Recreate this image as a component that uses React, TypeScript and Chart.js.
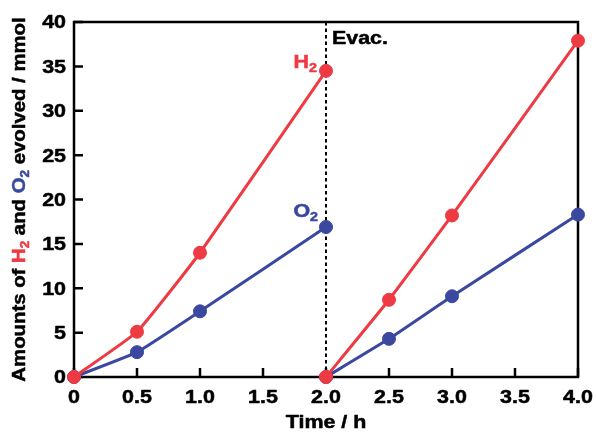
import React, { useEffect, useRef } from "react";
import { Chart, registerables } from "chart.js";

Chart.register(...registerables);

const timesRun1 = [0, 0.5, 1.0, 2.0];
const timesRun2 = [2.0, 2.5, 3.0, 4.0];
const h2Run1 = [0, 5.1, 14.0, 34.5];
const h2Run2 = [0, 8.7, 18.2, 37.9];
const o2Run1 = [0, 2.8, 7.4, 16.9];
const o2Run2 = [0, 4.3, 9.1, 18.3];
const xTicks = [0, 0.5, 1.0, 1.5, 2.0, 2.5, 3.0, 3.5, 4.0];
const xTickLabels = ["0", "0.5", "1.0", "1.5", "2.0", "2.5", "3.0", "3.5", "4.0"];
const yTicks = [0, 5, 10, 15, 20, 25, 30, 35, 40];
const yTickLabels = ["0", "5", "10", "15", "20", "25", "30", "35", "40"];
const evacTime = 2.0;

const RED = "#EE3A42";
const BLUE = "#3A48A0";
const FONT = "'Liberation Sans', Arial, sans-serif";
const SIZE = 18;
const STRETCH = 1.19;

function series(t1: number[], v1: number[], t2: number[], v2: number[]) {
  const pts: any[] = t1.map((x, i) => ({ x, y: v1[i] }));
  pts.push({ x: t1[t1.length - 1], y: null });
  t2.forEach((x, i) => pts.push({ x, y: v2[i] }));
  return pts;
}

type Part = { t: string; c: string; sub?: boolean };

function drawParts(
  ctx: CanvasRenderingContext2D,
  parts: Part[],
  x: number,
  y: number,
  align: "left" | "right" | "center",
  middle = false,
  stretch = STRETCH
) {
  const big = `bold ${SIZE}px ${FONT}`;
  const small = `bold ${Math.round(SIZE * 0.68)}px ${FONT}`;
  let total = 0;
  for (const p of parts) {
    ctx.font = p.sub ? small : big;
    total += ctx.measureText(p.t).width;
  }
  total *= stretch;
  const start = align === "left" ? x : align === "right" ? x - total : x - total / 2;
  const by = middle ? y + SIZE * 0.36 : y;
  ctx.save();
  ctx.translate(start, by);
  ctx.scale(stretch, 1);
  ctx.textAlign = "left";
  ctx.textBaseline = "alphabetic";
  ctx.lineWidth = 0.5;
  ctx.lineJoin = "round";
  let cx = 0;
  for (const p of parts) {
    ctx.font = p.sub ? small : big;
    ctx.fillStyle = p.c;
    ctx.strokeStyle = p.c;
    const yy = p.sub ? SIZE * 0.22 : 0;
    ctx.fillText(p.t, cx, yy);
    ctx.strokeText(p.t, cx, yy);
    cx += ctx.measureText(p.t).width;
  }
  ctx.restore();
}

const decor = {
  id: "decor",
  beforeDatasetsDraw(chart: any) {
    const { ctx, chartArea: a, scales } = chart;
    const xs = scales.x, ys = scales.y;
    ctx.save();
    const ex = xs.getPixelForValue(evacTime);
    ctx.strokeStyle = "#000";
    ctx.lineWidth = 2;
    ctx.setLineDash([3.5, 3]);
    ctx.beginPath();
    ctx.moveTo(ex, a.top);
    ctx.lineTo(ex, a.bottom);
    ctx.stroke();
    ctx.setLineDash([]);
    ctx.lineWidth = 2.5;
    ctx.strokeRect(a.left, a.top, a.right - a.left, a.bottom - a.top);
    ctx.beginPath();
    for (const v of yTicks) {
      const py = ys.getPixelForValue(v);
      ctx.moveTo(a.left, py);
      ctx.lineTo(a.left + 9, py);
    }
    for (const v of xTicks) {
      const px = xs.getPixelForValue(v);
      ctx.moveTo(px, a.bottom);
      ctx.lineTo(px, a.bottom - 9);
    }
    ctx.stroke();
    yTicks.forEach((v, i) => {
      drawParts(ctx, [{ t: yTickLabels[i], c: "#000" }], a.left - 8, ys.getPixelForValue(v), "right", true);
    });
    xTicks.forEach((v, i) => {
      drawParts(ctx, [{ t: xTickLabels[i], c: "#000" }], xs.getPixelForValue(v), a.bottom + 26, "center");
    });
    ctx.restore();
  },
  afterDatasetsDraw(chart: any) {
    const { ctx, chartArea: a, scales } = chart;
    const xs = scales.x, ys = scales.y;
    ctx.save();
    const ex = xs.getPixelForValue(evacTime);
    drawParts(ctx, [{ t: "Evac.", c: "#000" }], ex + 6, a.top + 22, "left");
    const hy = ys.getPixelForValue(h2Run1[h2Run1.length - 1]);
    drawParts(ctx, [{ t: "H", c: RED }, { t: "2", c: RED, sub: true }], ex - 9, hy - 3, "right");
    const oy = ys.getPixelForValue(o2Run1[o2Run1.length - 1]);
    drawParts(ctx, [{ t: "O", c: BLUE }, { t: "2", c: BLUE, sub: true }], ex - 8, oy - 10, "right");
    drawParts(ctx, [{ t: "Time / h", c: "#000" }], (a.left + a.right) / 2, 428, "center");
    ctx.translate(25, (a.top + a.bottom) / 2);
    ctx.rotate(-Math.PI / 2);
    drawParts(
      ctx,
      [
        { t: "Amounts of ", c: "#000" },
        { t: "H", c: RED },
        { t: "2", c: RED, sub: true },
        { t: " and ", c: "#000" },
        { t: "O", c: BLUE },
        { t: "2", c: BLUE, sub: true },
        { t: " evolved / mmol", c: "#000" },
      ],
      0,
      0,
      "center",
      false,
      1.13
    );
    ctx.restore();
  },
};

export default function App() {
  const ref = useRef<HTMLCanvasElement>(null);
  useEffect(() => {
    if (!ref.current) return;
    const common = {
      borderWidth: 3,
      pointRadius: 6.5,
      pointHoverRadius: 6.5,
      pointBorderWidth: 1,
      tension: 0.12,
      spanGaps: false,
      clip: false as any,
    };
    const chart = new Chart(ref.current, {
      type: "line",
      data: {
        datasets: [
          {
            label: "H2",
            data: series(timesRun1, h2Run1, timesRun2, h2Run2),
            borderColor: RED,
            backgroundColor: RED,
            pointBackgroundColor: RED,
            pointBorderColor: RED,
            ...common,
          },
          {
            label: "O2",
            data: series(timesRun1, o2Run1, timesRun2, o2Run2),
            borderColor: BLUE,
            backgroundColor: BLUE,
            pointBackgroundColor: BLUE,
            pointBorderColor: BLUE,
            ...common,
          },
        ],
      },
      options: {
        animation: false,
        responsive: false,
        maintainAspectRatio: false,
        layout: { padding: { top: 22, right: 18, left: 0, bottom: 0 } },
        plugins: { legend: { display: false }, tooltip: { enabled: false } },
        scales: {
          x: {
            type: "linear",
            min: 0,
            max: 4,
            afterFit: (s: any) => {
              s.height = 61;
            },
            grid: { display: false, drawTicks: false },
            border: { display: false },
            ticks: { display: false },
          },
          y: {
            type: "linear",
            min: 0,
            max: 40,
            afterFit: (s: any) => {
              s.width = 74;
            },
            grid: { display: false, drawTicks: false },
            border: { display: false },
            ticks: { display: false },
          },
        },
      },
      plugins: [decor],
    });
    return () => chart.destroy();
  }, []);
  return (
    <div style={{ position: "fixed", left: 0, top: 0, width: 596, height: 438, background: "#fff" }}>
      <canvas ref={ref} width={596} height={438} />
    </div>
  );
}
